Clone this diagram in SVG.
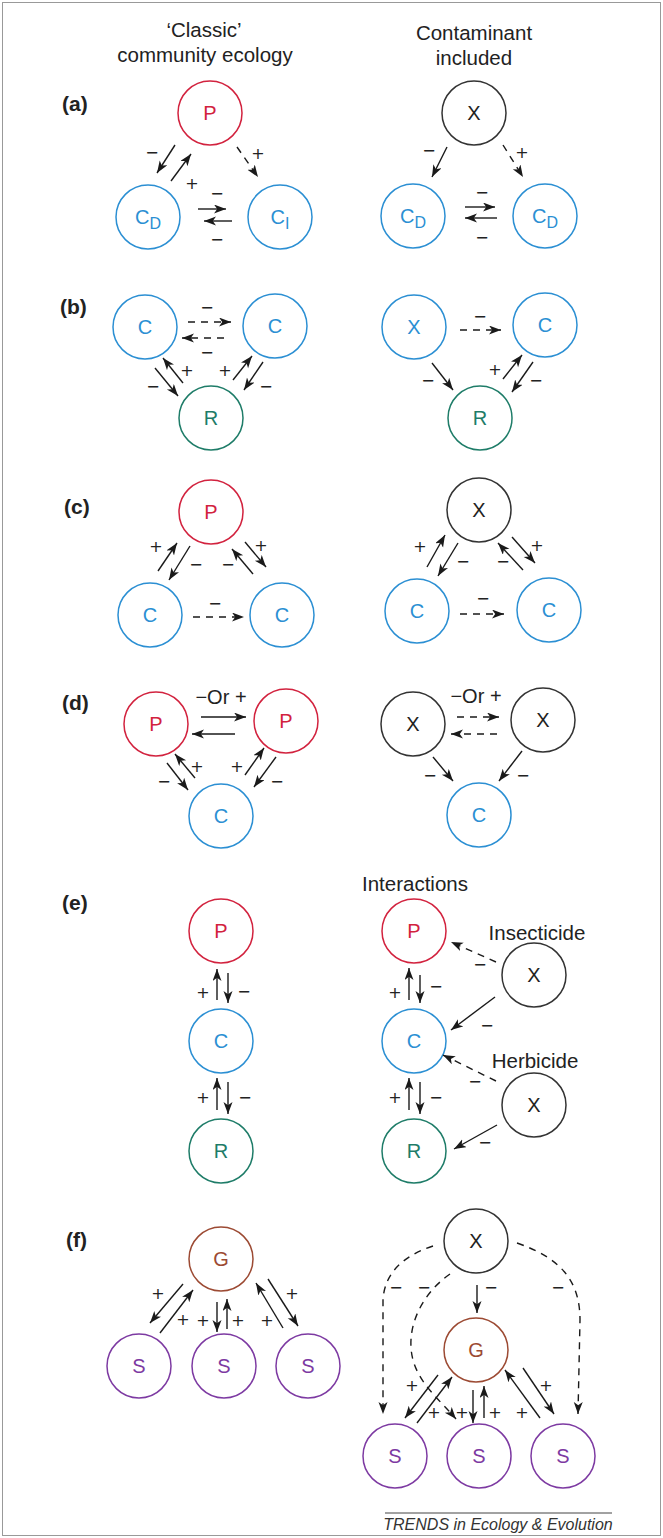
<svg xmlns="http://www.w3.org/2000/svg" width="663" height="1538" viewBox="0 0 663 1538">
<defs>
<marker id="ah" markerUnits="userSpaceOnUse" markerWidth="14" markerHeight="10" refX="12" refY="4.5" orient="auto">
<path d="M0,0 L12,4.5 L0,9 L3.2,4.5 Z" fill="#1a1a1a"/>
</marker>
</defs>
<style>
.n{fill:#fff;stroke-width:1.5}
.red{stroke:#d2223e}
.blue{stroke:#2b8fd3}
.grn{stroke:#1e7c68}
.blk{stroke:#333}
.brn{stroke:#9c4a33}
.pur{stroke:#7d3aa2}
.t{font-family:"Liberation Sans",Arial,sans-serif;font-size:20px;text-anchor:middle}
.tr{fill:#d2223e}.tb{fill:#2b8fd3}.tg{fill:#1e7c68}.tk{fill:#222}.tn{fill:#9c4a33}.tp{fill:#7d3aa2}
.h{font-family:"Liberation Sans",Arial,sans-serif;font-size:20.5px;fill:#222;text-anchor:middle}
.lab{font-family:"Liberation Sans",Arial,sans-serif;font-size:21px;font-weight:bold;fill:#222}
.s{font-family:"DejaVu Sans",sans-serif;font-size:16px;fill:#222;text-anchor:middle}
.or{font-family:"Liberation Sans",Arial,sans-serif;font-size:20px;fill:#222;text-anchor:middle}
.a{stroke:#1a1a1a;stroke-width:1.4;fill:none;marker-end:url(#ah)}
.d{stroke:#1a1a1a;stroke-width:1.4;fill:none;marker-end:url(#ah);stroke-dasharray:7,6}
</style>
<rect x="2.5" y="2.5" width="658" height="1533" fill="#fff" stroke="#999" stroke-width="1"/>

<g id="headers">
<text class="h" x="204" y="37">‘Classic’</text>
<text class="h" x="205" y="62">community ecology</text>
<text class="h" x="474" y="40">Contaminant</text>
<text class="h" x="474" y="65">included</text>
<text class="lab" x="62" y="111">(a)</text>
<text class="lab" x="60" y="314">(b)</text>
<text class="lab" x="64" y="514">(c)</text>
<text class="lab" x="62" y="710">(d)</text>
<text class="lab" x="62" y="910">(e)</text>
<text class="lab" x="66" y="1247">(f)</text>
</g>

<!-- (a) left -->
<g id="a-P"><circle class="n red" cx="210" cy="113" r="32"/><text class="t tr" x="210" y="120">P</text></g>
<g id="a-CD"><circle class="n blue" cx="148" cy="217" r="32"/><text class="t tb" x="148" y="224">C<tspan font-size="16" dy="5">D</tspan></text></g>
<g id="a-CI"><circle class="n blue" cx="280" cy="217" r="32"/><text class="t tb" x="280" y="224">C<tspan font-size="16" dy="5">I</tspan></text></g>
<!-- (a) right -->
<g id="a-X"><circle class="n blk" cx="474" cy="113" r="32"/><text class="t tk" x="474" y="120">X</text></g>
<g id="a-CD2"><circle class="n blue" cx="413" cy="216" r="32"/><text class="t tb" x="413" y="223">C<tspan font-size="16" dy="5">D</tspan></text></g>
<g id="a-CD3"><circle class="n blue" cx="545" cy="216" r="32"/><text class="t tb" x="545" y="223">C<tspan font-size="16" dy="5">D</tspan></text></g>

<!-- (b) -->
<g id="b-C1"><circle class="n blue" cx="145" cy="327" r="32"/><text class="t tb" x="145" y="334">C</text></g>
<g id="b-C2"><circle class="n blue" cx="275" cy="326" r="32"/><text class="t tb" x="275" y="333">C</text></g>
<g id="b-R"><circle class="n grn" cx="211" cy="418" r="32"/><text class="t tg" x="211" y="425">R</text></g>
<g id="b-X"><circle class="n blue" cx="414" cy="327" r="32"/><text class="t tb" x="414" y="334">X</text></g>
<g id="b-C3"><circle class="n blue" cx="545" cy="325" r="32"/><text class="t tb" x="545" y="332">C</text></g>
<g id="b-R2"><circle class="n grn" cx="480" cy="418" r="32"/><text class="t tg" x="480" y="425">R</text></g>

<!-- (c) -->
<g id="c-P"><circle class="n red" cx="211" cy="512" r="32"/><text class="t tr" x="211" y="519">P</text></g>
<g id="c-C1"><circle class="n blue" cx="150" cy="615" r="32"/><text class="t tb" x="150" y="622">C</text></g>
<g id="c-C2"><circle class="n blue" cx="282" cy="615" r="32"/><text class="t tb" x="282" y="622">C</text></g>
<g id="c-X"><circle class="n blk" cx="479" cy="510" r="32"/><text class="t tk" x="479" y="517">X</text></g>
<g id="c-C3"><circle class="n blue" cx="417" cy="611" r="32"/><text class="t tb" x="417" y="618">C</text></g>
<g id="c-C4"><circle class="n blue" cx="549" cy="610" r="32"/><text class="t tb" x="549" y="617">C</text></g>

<!-- (d) -->
<g id="d-P1"><circle class="n red" cx="156" cy="724" r="32"/><text class="t tr" x="156" y="731">P</text></g>
<g id="d-P2"><circle class="n red" cx="286" cy="721" r="32"/><text class="t tr" x="286" y="728">P</text></g>
<g id="d-C"><circle class="n blue" cx="221" cy="816" r="32"/><text class="t tb" x="221" y="823">C</text></g>
<g id="d-X1"><circle class="n blk" cx="413" cy="724" r="32"/><text class="t tk" x="413" y="731">X</text></g>
<g id="d-X2"><circle class="n blk" cx="543" cy="720" r="32"/><text class="t tk" x="543" y="727">X</text></g>
<g id="d-C2"><circle class="n blue" cx="479" cy="815" r="32"/><text class="t tb" x="479" y="822">C</text></g>

<!-- (e) -->
<g id="e-P"><circle class="n red" cx="221" cy="931" r="32"/><text class="t tr" x="221" y="938">P</text></g>
<g id="e-C"><circle class="n blue" cx="221" cy="1041" r="32"/><text class="t tb" x="221" y="1048">C</text></g>
<g id="e-R"><circle class="n grn" cx="221" cy="1151" r="32"/><text class="t tg" x="221" y="1158">R</text></g>
<g id="e-P2"><circle class="n red" cx="414" cy="931" r="32"/><text class="t tr" x="414" y="938">P</text></g>
<g id="e-C2"><circle class="n blue" cx="414" cy="1041" r="32"/><text class="t tb" x="414" y="1048">C</text></g>
<g id="e-R2"><circle class="n grn" cx="414" cy="1151" r="32"/><text class="t tg" x="414" y="1158">R</text></g>
<g id="e-X1"><circle class="n blk" cx="534" cy="975" r="32"/><text class="t tk" x="534" y="982">X</text></g>
<g id="e-X2"><circle class="n blk" cx="534" cy="1105" r="32"/><text class="t tk" x="534" y="1112">X</text></g>
<g id="e-labels">
<text class="h" x="415" y="891">Interactions</text>
<text class="h" x="537" y="940">Insecticide</text>
<text class="h" x="535" y="1068">Herbicide</text>
</g>

<!-- (f) -->
<g id="f-G"><circle class="n brn" cx="221" cy="1259" r="32"/><text class="t tn" x="221" y="1266">G</text></g>
<g id="f-S1"><circle class="n pur" cx="139" cy="1366" r="32"/><text class="t tp" x="139" y="1373">S</text></g>
<g id="f-S2"><circle class="n pur" cx="224" cy="1366" r="32"/><text class="t tp" x="224" y="1373">S</text></g>
<g id="f-S3"><circle class="n pur" cx="308" cy="1366" r="32"/><text class="t tp" x="308" y="1373">S</text></g>
<g id="f-X"><circle class="n blk" cx="476" cy="1241" r="32"/><text class="t tk" x="476" y="1248">X</text></g>
<g id="f-G2"><circle class="n brn" cx="476" cy="1350" r="32"/><text class="t tn" x="476" y="1357">G</text></g>
<g id="f-S4"><circle class="n pur" cx="395" cy="1456" r="32"/><text class="t tp" x="395" y="1463">S</text></g>
<g id="f-S5"><circle class="n pur" cx="479" cy="1456" r="32"/><text class="t tp" x="479" y="1463">S</text></g>
<g id="f-S6"><circle class="n pur" cx="563" cy="1456" r="32"/><text class="t tp" x="563" y="1463">S</text></g>

<g id="connectors">
<!-- a left -->
<line class="a" x1="175" y1="145" x2="157" y2="173"/>
<line class="a" x1="171" y1="181" x2="191" y2="154"/>
<line class="d" x1="237" y1="147" x2="258" y2="177"/>
<line class="a" x1="198" y1="209" x2="226" y2="209"/>
<line class="a" x1="232" y1="221" x2="204" y2="221"/>
<!-- a right -->
<line class="a" x1="447" y1="147" x2="432" y2="177"/>
<line class="d" x1="503" y1="145" x2="523" y2="177"/>
<line class="a" x1="465" y1="207" x2="495" y2="207"/>
<line class="a" x1="497" y1="218" x2="465" y2="218"/>
<!-- b left -->
<line class="d" x1="188" y1="322" x2="231" y2="322"/>
<line class="d" x1="224" y1="338" x2="182" y2="338"/>
<line class="a" x1="155" y1="368" x2="178" y2="396"/>
<line class="a" x1="183" y1="383" x2="163" y2="358"/>
<line class="a" x1="233" y1="380" x2="252" y2="356"/>
<line class="a" x1="263" y1="362" x2="244" y2="390"/>
<!-- b right -->
<line class="d" x1="460" y1="330" x2="501" y2="330"/>
<line class="a" x1="432" y1="363" x2="453" y2="390"/>
<line class="a" x1="503" y1="379" x2="522" y2="355"/>
<line class="a" x1="533" y1="362" x2="512" y2="392"/>
<!-- c left -->
<line class="a" x1="158" y1="571" x2="177" y2="543"/>
<line class="a" x1="190" y1="546" x2="169" y2="580"/>
<line class="a" x1="253" y1="574" x2="232" y2="549"/>
<line class="a" x1="245" y1="542" x2="266" y2="567"/>
<line class="d" x1="193" y1="617" x2="244" y2="617"/>
<!-- c right -->
<line class="a" x1="427" y1="567" x2="445" y2="535"/>
<line class="a" x1="458" y1="543" x2="438" y2="576"/>
<line class="a" x1="523" y1="570" x2="498" y2="543"/>
<line class="a" x1="512" y1="537" x2="535" y2="563"/>
<line class="d" x1="460" y1="614" x2="504" y2="614"/>
<!-- d left -->
<line class="a" x1="201" y1="717" x2="246" y2="717"/>
<line class="a" x1="235" y1="734" x2="192" y2="734"/>
<line class="a" x1="167" y1="763" x2="188" y2="790"/>
<line class="a" x1="195" y1="778" x2="175" y2="754"/>
<line class="a" x1="245" y1="775" x2="264" y2="748"/>
<line class="a" x1="276" y1="757" x2="254" y2="787"/>
<!-- d right -->
<line class="d" x1="457" y1="717" x2="499" y2="717"/>
<line class="d" x1="497" y1="734" x2="451" y2="734"/>
<line class="a" x1="433" y1="757" x2="453" y2="781"/>
<line class="a" x1="522" y1="751" x2="499" y2="781"/>
<!-- e left -->
<line class="a" x1="217" y1="1000" x2="217" y2="969"/>
<line class="a" x1="228" y1="973" x2="228" y2="1003"/>
<line class="a" x1="217" y1="1110" x2="217" y2="1078"/>
<line class="a" x1="228" y1="1082" x2="228" y2="1114"/>
<!-- e right -->
<line class="a" x1="409" y1="1000" x2="409" y2="968"/>
<line class="a" x1="420" y1="975" x2="420" y2="1003"/>
<line class="a" x1="409" y1="1110" x2="409" y2="1078"/>
<line class="a" x1="420" y1="1082" x2="420" y2="1114"/>
<line class="d" x1="496" y1="962" x2="451" y2="942"/>
<line class="a" x1="495" y1="997" x2="451" y2="1030"/>
<line class="d" x1="496" y1="1081" x2="443" y2="1055"/>
<line class="a" x1="497" y1="1125" x2="454" y2="1149"/>
<!-- f left -->
<line class="a" x1="183" y1="1284" x2="150" y2="1323"/>
<line class="a" x1="160" y1="1333" x2="193" y2="1290"/>
<line class="a" x1="217" y1="1302" x2="217" y2="1332"/>
<line class="a" x1="227" y1="1329" x2="227" y2="1299"/>
<line class="a" x1="283" y1="1328" x2="256" y2="1283"/>
<line class="a" x1="268" y1="1279" x2="298" y2="1326"/>
<!-- f right -->
<line class="a" x1="477" y1="1285" x2="477" y2="1313"/>
<path class="d" d="M433,1246 Q385,1262 383,1300 L383,1414"/>
<path class="d" d="M450,1274 C420,1295 405,1330 413,1360 C420,1385 440,1400 456,1419"/>
<path class="d" d="M517,1243 C560,1258 580,1280 580,1320 L578,1414"/>
<line class="a" x1="438" y1="1375" x2="405" y2="1418"/>
<line class="a" x1="417" y1="1423" x2="452" y2="1377"/>
<line class="a" x1="473" y1="1390" x2="473" y2="1423"/>
<line class="a" x1="484" y1="1418" x2="484" y2="1386"/>
<line class="a" x1="540" y1="1418" x2="505" y2="1370"/>
<line class="a" x1="523" y1="1368" x2="554" y2="1414"/>
</g>

<g id="signs">
<text class="s" x="152" y="158">−</text>
<text class="s" x="192" y="189">+</text>
<text class="s" x="258" y="159">+</text>
<text class="s" x="217" y="199">−</text>
<text class="s" x="217" y="245">−</text>
<text class="s" x="429" y="156">−</text>
<text class="s" x="522" y="158">+</text>
<text class="s" x="482" y="198">−</text>
<text class="s" x="482" y="243">−</text>

<text class="s" x="207" y="313">−</text>
<text class="s" x="207" y="358">−</text>
<text class="s" x="187" y="376">+</text>
<text class="s" x="153" y="392">−</text>
<text class="s" x="225" y="376">+</text>
<text class="s" x="266" y="392">−</text>
<text class="s" x="480" y="322">−</text>
<text class="s" x="428" y="386">−</text>
<text class="s" x="495" y="375">+</text>
<text class="s" x="536" y="386">−</text>

<text class="s" x="156" y="552">+</text>
<text class="s" x="196" y="570">−</text>
<text class="s" x="228" y="570">−</text>
<text class="s" x="261" y="551">+</text>
<text class="s" x="215" y="609">−</text>
<text class="s" x="420" y="552">+</text>
<text class="s" x="463" y="567">−</text>
<text class="s" x="503" y="567">−</text>
<text class="s" x="537" y="551">+</text>
<text class="s" x="483" y="604">−</text>

<text class="or" x="221" y="704">−Or +</text>
<text class="s" x="164" y="787">−</text>
<text class="s" x="197" y="772">+</text>
<text class="s" x="237" y="772">+</text>
<text class="s" x="277" y="787">−</text>
<text class="or" x="476" y="703">−Or +</text>
<text class="s" x="430" y="781">−</text>
<text class="s" x="523" y="781">−</text>

<text class="s" x="203" y="998">+</text>
<text class="s" x="244" y="997">−</text>
<text class="s" x="203" y="1103">+</text>
<text class="s" x="245" y="1103">−</text>
<text class="s" x="395" y="998">+</text>
<text class="s" x="436" y="992">−</text>
<text class="s" x="395" y="1103">+</text>
<text class="s" x="436" y="1103">−</text>
<text class="s" x="480" y="970">−</text>
<text class="s" x="487" y="1031">−</text>
<text class="s" x="475" y="1087">−</text>
<text class="s" x="485" y="1148">−</text>

<text class="s" x="158" y="1299">+</text>
<text class="s" x="183" y="1325">+</text>
<text class="s" x="203" y="1326">+</text>
<text class="s" x="238" y="1326">+</text>
<text class="s" x="267" y="1326">+</text>
<text class="s" x="292" y="1299">+</text>

<text class="s" x="491" y="1293">−</text>
<text class="s" x="396" y="1293">−</text>
<text class="s" x="424" y="1293">−</text>
<text class="s" x="558" y="1293">−</text>
<text class="s" x="412" y="1391">+</text>
<text class="s" x="434" y="1418">+</text>
<text class="s" x="462" y="1418">+</text>
<text class="s" x="495" y="1418">+</text>
<text class="s" x="522" y="1418">+</text>
<text class="s" x="546" y="1391">+</text>
</g>

<g id="footer">
<line x1="385" y1="1513" x2="612" y2="1513" stroke="#444" stroke-width="1"/>
<text x="498" y="1530" font-family="'Liberation Sans',Arial,sans-serif" font-size="16" font-style="italic" fill="#333" text-anchor="middle">TRENDS in Ecology &amp; Evolution</text>
</g>
</svg>
